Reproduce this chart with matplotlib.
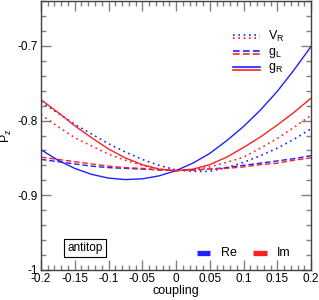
import numpy as np
import matplotlib.pyplot as plt
from matplotlib.ticker import MultipleLocator

plt.rcParams['font.family'] = ['Liberation Sans', 'DejaVu Sans']

# coupling values
x = [-0.2, -0.175, -0.15, -0.125, -0.1, -0.075, -0.05, -0.025, 0.0,
     0.025, 0.05, 0.075, 0.1, 0.125, 0.15, 0.175, 0.2]

# P_z for each coupling (Re = blue, Im = red)
re_VR = [-0.775, -0.790, -0.805, -0.818, -0.831, -0.842, -0.852, -0.860, -0.866,
         -0.868, -0.868, -0.863, -0.856, -0.847, -0.837, -0.825, -0.811]
im_VR = [-0.792, -0.808, -0.823, -0.834, -0.845, -0.853, -0.860, -0.865, -0.867,
         -0.866, -0.862, -0.856, -0.849, -0.837, -0.824, -0.809, -0.793]
re_gL = [-0.852, -0.855, -0.858, -0.861, -0.863, -0.864, -0.865, -0.866, -0.867,
         -0.866, -0.865, -0.863, -0.860, -0.857, -0.854, -0.851, -0.847]
im_gL = [-0.849, -0.852, -0.855, -0.858, -0.861, -0.863, -0.864, -0.866, -0.867,
         -0.866, -0.865, -0.864, -0.862, -0.859, -0.857, -0.853, -0.850]
re_gR = [-0.839, -0.853, -0.864, -0.872, -0.877, -0.879, -0.878, -0.874, -0.867,
         -0.857, -0.844, -0.827, -0.808, -0.786, -0.761, -0.732, -0.701]
im_gR = [-0.772, -0.789, -0.807, -0.823, -0.838, -0.850, -0.859, -0.865, -0.867,
         -0.865, -0.859, -0.849, -0.836, -0.822, -0.806, -0.789, -0.770]

blue = '#2020ff'
red = '#ff2020'

fig = plt.figure(figsize=(3.19, 3.0), dpi=100)
ax = fig.add_axes([41/319, 30/300, 270/319, 269/300])

dot = (0, (1, 2.2))
dash = (0, (4, 2))
ax.plot(x, re_VR, color=blue, ls=dot, lw=1.2)
ax.plot(x, im_VR, color=red, ls=dot, lw=1.2)
ax.plot(x, re_gL, color=blue, ls=dash, lw=1.0)
ax.plot(x, im_gL, color=red, ls=dash, lw=1.0)
ax.plot(x, re_gR, color=blue, lw=1.0)
ax.plot(x, im_gR, color=red, lw=1.0)

ax.set_xlim(-0.2, 0.2)
ax.set_ylim(-1.0, -0.64)
ax.xaxis.set_minor_locator(MultipleLocator(0.01))
ax.yaxis.set_minor_locator(MultipleLocator(0.02))
ax.set_xticks([-0.2, -0.15, -0.1, -0.05, 0, 0.05, 0.1, 0.15, 0.2])
ax.set_xticklabels(['-0.2', '-0.15', '-0.1', '-0.05', '0', '0.05', '0.1', '0.15', '0.2'])
ax.set_yticks([-1, -0.9, -0.8, -0.7])
ax.set_yticklabels(['-1', '-0.9', '-0.8', '-0.7'])
ax.tick_params(which='both', direction='in', top=True, right=True,
               color='#808080', labelsize=8.5, pad=2)
ax.tick_params(which='major', length=7, width=1.0)
ax.tick_params(which='minor', length=3.5, width=1.0)
for s in ax.spines.values():
    s.set_color('#404040')
    s.set_linewidth(1.0)

ax.set_xlabel('coupling', fontsize=9, labelpad=0)
ax.set_ylabel('P$_\\mathregular{z}$', fontsize=9, labelpad=3)

# line-style legend (top right)
leg_labels = ['V$_\\mathregular{R}$', 'g$_\\mathregular{L}$', 'g$_\\mathregular{R}$']
leg_styles = [dot, dash, '-']
for i in range(3):
    yy = -0.688 - i * 0.021
    ax.plot([0.085, 0.125], [yy + 0.002, yy + 0.002], color=blue, ls=leg_styles[i], lw=1.2)
    ax.plot([0.085, 0.125], [yy - 0.002, yy - 0.002], color=red, ls=leg_styles[i], lw=1.2)
    ax.text(0.137, yy, leg_labels[i], fontsize=9, va='center', ha='left')

# colour legend (bottom right)
ax.plot([0.031, 0.050], [-0.977, -0.977], color=blue, lw=3.8, solid_capstyle='butt')
ax.text(0.066, -0.977, 'Re', fontsize=9, va='center')
ax.plot([0.114, 0.135], [-0.977, -0.977], color=red, lw=3.8, solid_capstyle='butt')
ax.text(0.149, -0.977, 'Im', fontsize=9, va='center')

ax.text(-0.161, -0.9705, 'antitop', fontsize=8.5, va='center', ha='left',
        bbox=dict(boxstyle='square,pad=0.25', fc='white', ec='black', lw=0.8))

fig.savefig('out.png', dpi=100)
